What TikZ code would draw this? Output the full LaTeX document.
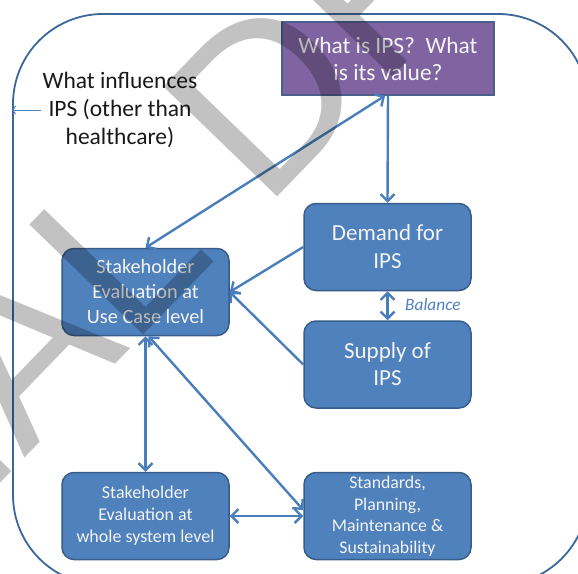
\documentclass[tikz,border=0pt]{standalone}
\usepackage{fontspec}
\setmainfont{Carlito}
\newfontfamily\wmfont{Liberation Sans}
\usetikzlibrary{arrows.meta,calc}
\definecolor{boxfill}{HTML}{4F81BD}
\definecolor{boxline}{HTML}{385D8A}
\definecolor{purfill}{HTML}{8064A2}
\definecolor{purline}{HTML}{4B5E8C}
\definecolor{arrowc}{HTML}{4A7EBB}
\definecolor{framec}{HTML}{3C679A}
\definecolor{boxtext}{HTML}{F4F4F4}
\newlength\wmw
\begin{document}
\settowidth\wmw{\wmfont\fontsize{230bp}{230bp}\selectfont FINA}%
\begin{tikzpicture}[x=1bp,y=-1bp,
  >={Straight Barb[length=7bp,width=14bp]},
  frame/.style={draw=framec, line width=1.8bp, rounded corners=90bp, minimum width=575bp, minimum height=571bp, inner sep=0},
  box/.style={draw=boxline, fill=boxfill, line width=1.5bp, rounded corners=12bp, text=boxtext, align=center, minimum width=167bp, minimum height=87bp, inner sep=0},
  purbox/.style={draw=purline, fill=purfill, line width=1.5bp, text=boxtext, align=center, minimum width=212bp, minimum height=73bp, inner sep=0, font=\fontsize{23.4bp}{27bp}\selectfont},
  infl/.style={align=center, inner sep=0, text=black!90, font=\fontsize{23.5bp}{28bp}\selectfont},
  arr/.style={draw=arrowc, line width=2.4bp},
  thinarr/.style={draw=boxfill, line width=0.9bp, -{Straight Barb[length=3bp,width=8bp]}},
  bal/.style={text=boxfill, inner sep=0, anchor=west, font=\fontsize{17.3bp}{19bp}\selectfont\itshape},
  wm/.style={inner sep=0, text=black, text opacity=0.24, font=\wmfont\fontsize{230bp}{230bp}\selectfont}
]
\useasboundingbox (0,0) rectangle (578,574);
\node[frame] (frame) at (300.5,299.5) {};
\node[purbox] (q) at (388,58.5) {What is IPS?\ \ What\\is its value?};
\node[infl] (infl) at (120,110) {What influences\\IPS (other than\\healthcare)};
\node[box, font=\fontsize{23bp}{28bp}\selectfont] (dem) at (387.5,247) {Demand for\\IPS};
\node[box, font=\fontsize{23bp}{27bp}\selectfont] (sup) at (387.5,364.5) {Supply of\\IPS};
\node[box, font=\fontsize{20.3bp}{25bp}\selectfont] (suc) at (145.5,292) {Stakeholder\\Evaluation at\\Use Case level};
\node[box, font=\fontsize{18bp}{22bp}\selectfont] (sws) at (145.5,516) {Stakeholder\\Evaluation at\\whole system level};
\node[box, font=\fontsize{17.8bp}{21.5bp}\selectfont] (std) at (387.5,516) {Standards,\\Planning,\\Maintenance \&\\Sustainability};
\node[bal] (bal) at (405,305) {Balance};
\draw[arr,<->] (suc.north) -- ([xshift=-3bp]q.south);
\draw[arr,->] (q.south) -- (dem.north);
\draw[arr,->] (dem.west) -- (suc.east);
\draw[arr,->] (sup.west) -- (suc.east);
\draw[arr,<->] (dem.south) -- (sup.north);
\draw[arr,<->] (suc.south) -- (sws.north);
\draw[arr,<->] ([xshift=3bp]suc.south) -- ([yshift=6bp]std.west);
\draw[arr,<->] (sws.east) -- (std.west);
\draw[thinarr] ([xshift=-1bp]infl.west) -- (infl.west -| frame.west);
\pgfmathsetmacro\wk{(\wmw+16)*0.7071}
\node[wm, anchor=base west, rotate=46] (wm) at ({150-\wk},{342+\wk}) {FINAL DRAFT};
\end{tikzpicture}
\end{document}
